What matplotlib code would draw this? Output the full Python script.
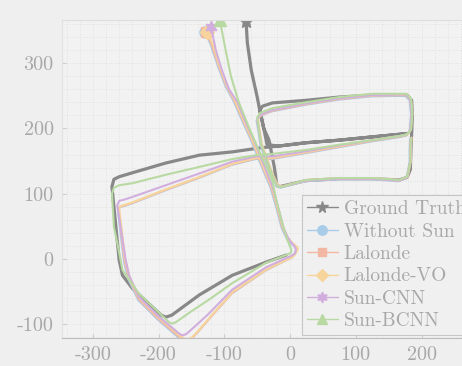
import matplotlib

matplotlib.use("Agg")
import matplotlib.pyplot as plt

plt.rcParams["font.family"] = ["cmr10", "DejaVu Serif"]
plt.rcParams["axes.unicode_minus"] = False

# trajectories (x, z in metres)
GT_X = [-67, -65, -59, -50, -45, -40, -32, -24, -20, -15,
        24, 75, 125, 166, 178, 183, 184, 185, 186, 185, 178,
        125, 75, 24, -27, -42, -46, -40, -35, -17, 24, 75, 125, 177,
        125, 75, 24, -17, -47, -88, -138, -189, -240, -260, -268,
        -271, -265, -260, -255, -240, -196, -189, -180, -138, -88, -37, -6]
GT_Y = [365, 331, 289, 248, 222, 200, 182, 141, 112, 111,
        120, 123, 123, 121, 125, 137, 170, 192, 220, 243, 251,
        251, 248, 243, 239, 234, 228, 200, 175, 173, 178, 182, 187, 192,
        187, 182, 178, 173, 170, 164, 159, 147, 132, 126, 122,
        111, 49, -2, -25, -45, -86, -89, -86, -55, -25, -5, 6]

NOSUN_X = [-129, -121, -109, -98, -86, -73, -59, -51, -41, -30, -21, -13, -5, 1, 7, 10, 7, 2,
           -38, -89, -121, -139, -151, -159, -169, -201, -231, -246, -253, -259, -262, -260, -253,
           -241, -190, -139, -89, -53, -28, 23, 74, 124, 169, 177, 182, 184, 182, 175,
           124, 74, 23, -28, -46, -51, -48, -45, -36, -28, -21, -15,
           23, 74, 124, 165, 177, 182, 182, 183]
NOSUN_Y = [347, 329, 293, 264, 242, 212, 181, 161, 136, 110, 79, 48, 31, 24, 19, 15, 8, 2,
           -18, -53, -89, -110, -123, -127, -121, -93, -63, -31, -3, 49, 74, 79, 81,
           85, 105, 124, 144, 153, 153, 162, 171, 180, 187, 189, 196, 221, 243, 250,
           249, 244, 236, 226, 219, 212, 194, 174, 149, 127, 112, 109,
           119, 122, 122, 119, 124, 149, 171, 184]

LALONDE_X = [-128, -120, -108, -97, -85, -72, -58, -50, -40, -29, -20, -12, -4, 2, 8, 11, 8, 3,
             -37, -88, -120, -138, -150, -158, -168, -200, -230, -245, -252, -258, -261, -259, -252,
             -240, -189, -138, -88, -52, -27, 24, 75, 125, 170, 178, 183, 185, 183, 176,
             125, 75, 24, -27, -45, -50, -47, -44, -35, -27, -20, -14,
             24, 75, 125, 166, 178, 183, 183, 184]
LALONDE_Y = [348, 330, 294, 265, 243, 213, 182, 162, 137, 111, 80, 49, 32, 25, 20, 16, 9, 3,
             -17, -52, -88, -109, -122, -126, -120, -92, -62, -30, -2, 50, 75, 80, 82,
             86, 106, 125, 145, 154, 154, 163, 172, 181, 188, 190, 197, 222, 244, 251,
             250, 245, 237, 227, 220, 213, 195, 175, 150, 128, 113, 110,
             120, 123, 123, 120, 125, 150, 172, 185]

LALONDE_VO_X = [-126, -118, -107, -96, -84, -71, -57, -49, -39, -28, -19, -11, -3, 3, 9, 12, 9, 4,
                -36, -87, -119, -137, -149, -157, -167, -199, -229, -244, -251, -257, -260, -258, -251,
                -239, -188, -137, -87, -51, -26, 25, 76, 126, 171, 179, 184, 186, 184, 177,
                126, 76, 25, -26, -44, -49, -46, -43, -34, -26, -19, -13,
                25, 76, 126, 167, 179, 184, 184, 185]
LALONDE_VO_Y = [348, 330, 294, 265, 243, 213, 182, 162, 137, 111, 80, 49, 32, 25, 20, 16, 9, 3,
                -16, -50, -86, -107, -120, -124, -118, -90, -60, -28, 0, 52, 77, 81, 83,
                87, 107, 126, 146, 155, 155, 164, 173, 182, 189, 191, 198, 223, 245, 252,
                251, 246, 238, 228, 221, 214, 196, 176, 151, 129, 114, 111,
                121, 124, 124, 121, 126, 151, 173, 186]

SUN_CNN_X = [-120, -113, -104, -93, -80, -68, -55, -47, -37, -27, -17, -10, -3, 2, 7, 9, 7, 2,
             -37, -88, -125, -150, -158, -164, -169, -200, -230, -245, -250, -258, -263, -260, -252,
             -240, -189, -138, -88, -52, -27, 24, 75, 125, 170, 178, 183, 185, 183, 176,
             125, 75, 24, -27, -45, -50, -47, -44, -35, -27, -20, -14,
             24, 75, 125, 166, 178, 183, 183, 184]
SUN_CNN_Y = [355, 320, 290, 260, 240, 210, 182, 162, 137, 111, 75, 48, 32, 25, 19, 14, 8, 5,
             -13, -47, -85, -108, -115, -117, -114, -88, -58, -25, -2, 50, 82, 89, 91,
             95, 113, 131, 149, 157, 157, 165, 174, 182, 189, 191, 198, 223, 245, 252,
             251, 246, 238, 228, 221, 214, 195, 175, 150, 128, 113, 110,
             120, 123, 123, 120, 125, 150, 172, 185]

SUN_BCNN_X = [-107, -100, -90, -78, -62, -43, -33, -27, -21, -12, -4, 2, 1,
              -37, -88, -123, -150, -174, -180, -184, -230, -255, -262, -268, -271, -268, -260,
              -240, -189, -138, -88, -52, -27, 24, 75, 125, 170, 178, 184, 186, 184, 176,
              125, 75, 24, -27, -45, -50, -47, -44, -35, -27, -20, -14,
              24, 75, 125, 166, 178, 183, 183, 184]
SUN_BCNN_Y = [366, 330, 280, 240, 200, 156, 135, 120, 90, 55, 29, 14, 9,
              -6, -37, -62, -80, -97, -99, -97, -53, -17, 20, 49, 100, 109, 113,
              116, 129, 141, 153, 159, 161, 167, 175, 182, 189, 191, 198, 223, 246, 253,
              253, 248, 240, 231, 224, 217, 195, 175, 150, 128, 112, 110,
              121, 124, 124, 121, 126, 150, 172, 185]

SERIES = [
    ("Ground Truth", GT_X, GT_Y, "#888888", "*", 2.3, 10),
    ("Without Sun", NOSUN_X, NOSUN_Y, "#a9cce8", "o", 1.5, 8),
    ("Lalonde", LALONDE_X, LALONDE_Y, "#f2b8a4", "s", 1.5, 7),
    ("Lalonde-VO", LALONDE_VO_X, LALONDE_VO_Y, "#f6d49c", "D", 1.5, 7),
    ("Sun-CNN", SUN_CNN_X, SUN_CNN_Y, "#d1aedd", (6, 1, 0), 1.5, 9),
    ("Sun-BCNN", SUN_BCNN_X, SUN_BCNN_Y, "#b9d9a3", "^", 1.5, 9),
]

X_TICKS = [-300, -200, -100, 0, 100, 200]
Y_TICKS = [-100, 0, 100, 200, 300]

BG = "#efefef"
TEXT = "#a8a8a8"

fig = plt.figure(figsize=(4.62, 3.66), dpi=100, facecolor=BG)
ax = fig.add_axes([62 / 462, 28 / 366, 466 / 462, 318 / 366])
ax.set_facecolor("#f2f2f2")

for name, xs, ys, color, marker, lw, ms in SERIES:
    ax.plot(xs, ys, color=color, linewidth=lw, marker=marker, markevery=[0],
            markersize=ms, markeredgecolor=color, markerfacecolor=color,
            label=name, solid_joinstyle="round", solid_capstyle="round")

ax.set_xlim(-347, 362)
ax.set_ylim(-121, 366)
ax.set_xticks(X_TICKS)
ax.set_yticks(Y_TICKS)
ax.minorticks_on()
ax.grid(True, which="both", linestyle=(0, (1, 2.5)), color="#d6d6d6", linewidth=0.5)
ax.set_axisbelow(True)
ax.tick_params(which="major", direction="in", length=3, color="#cccccc",
               labelsize=14.5, labelcolor=TEXT, pad=6)
ax.tick_params(which="minor", length=0)
ax.spines["bottom"].set_color("#bdbdbd")
ax.spines["left"].set_color("#e0e0e0")
ax.spines["top"].set_color("#dedede")
ax.spines["right"].set_visible(False)

leg = ax.legend(loc="lower left", bbox_to_anchor=(302 / 462, 31 / 366),
                bbox_transform=fig.transFigure, fontsize=14, frameon=True,
                fancybox=False, handlelength=1.6, handletextpad=0.3,
                labelspacing=0.23, borderpad=0.25, borderaxespad=0,
                markerscale=0.85)
leg.get_frame().set_facecolor("#f0f0f0")
leg.get_frame().set_edgecolor("#c6c6c6")
leg.get_frame().set_linewidth(0.8)
leg.get_frame().set_alpha(1.0)
for line in leg.get_lines():
    line.set_linewidth(1.0)
for text in leg.get_texts():
    text.set_color(TEXT)

fig.savefig("out.png", dpi=100, facecolor=BG)
